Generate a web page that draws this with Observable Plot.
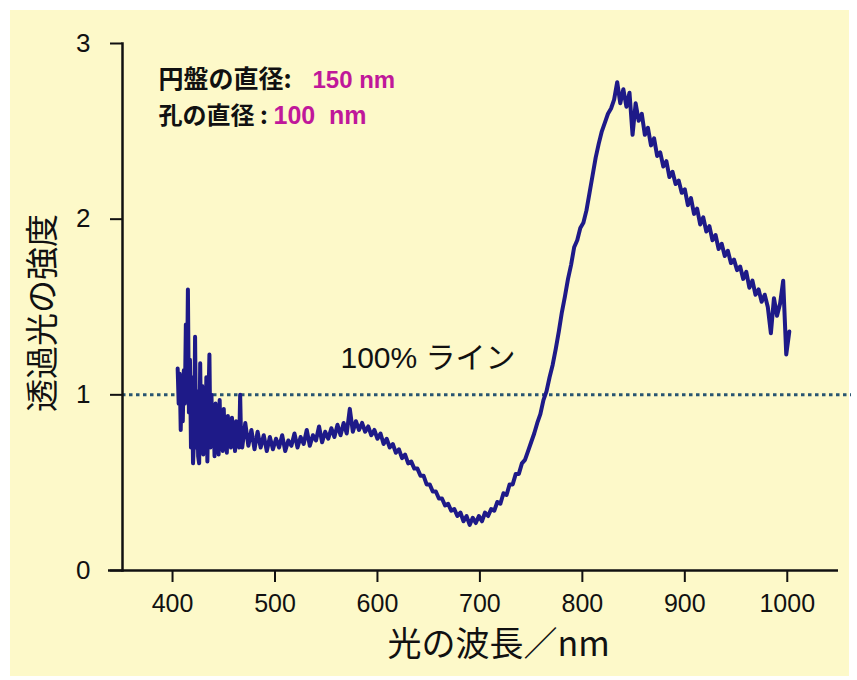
<!DOCTYPE html>
<html>
<head>
<meta charset="utf-8">
<script src="https://cdn.jsdelivr.net/npm/d3@7"></script>
<script src="https://cdn.jsdelivr.net/npm/@observablehq/plot@0.6"></script>
<style>
  html, body { margin: 0; padding: 0; background: #ffffff; }
  #wrap { position: relative; width: 857px; height: 680px; overflow: hidden; }
  #bg { position: absolute; left: 10px; top: 10px; width: 839px; height: 666px; background: #fdf9c9; }
  #chart { position: absolute; left: 0; top: 0; }
  #chart svg { overflow: visible; }
  g[aria-label="x-axis tick label"] text, g[aria-label="y-axis tick label"] text { fill: #111; }
</style>
</head>
<body>
<div id="wrap"><div id="bg"></div><div id="chart"></div></div>
<script>
// ---- data ----
// blue edge of the spectrum (very noisy), sampled every 1 nm
const blueEdgeStart = 405;
const blueEdgeStep = 1;
const blueEdge = [
  1.15,0.95,1.12,0.80,1.10,0.85,1.14,0.95,1.40,1.00,
  1.60,0.90,1.20,0.70,1.10,0.61,0.75,1.33,0.70,1.02,
  0.65,0.61,1.18,0.70,1.05,0.66,0.92,0.72,1.10,0.62,
  0.95,1.23,0.70,1.00,0.72,0.90,0.65,0.95,0.72,0.88,
  0.66,0.97,0.71,0.86,0.68,0.92,0.72,0.84,0.67,0.88,
  0.73,0.82,0.70,0.87,0.72,0.80,0.68,0.85,0.73,0.82,
  0.70,1.00,0.72
];
// rest of the spectrum, sampled every 3 nm
const mainStart = 468;
const mainStep = 3;
const mainValues = [
  0.70,0.84,0.71,0.80,0.69,0.79,0.70,0.77,0.68,
  0.76,0.69,0.75,0.70,0.77,0.68,0.74,0.71,0.78,0.70,
  0.76,0.72,0.80,0.71,0.77,0.74,0.82,0.73,0.79,0.75,
  0.81,0.76,0.83,0.77,0.84,0.78,0.92,0.79,0.85,0.80,
  0.84,0.79,0.82,0.77,0.80,0.75,0.78,0.72,0.75,0.70,
  0.72,0.67,0.69,0.64,0.66,0.61,0.62,0.58,0.58,0.54,
  0.54,0.49,0.49,0.45,0.45,0.41,0.41,0.37,0.38,0.34,
  0.35,0.31,0.33,0.28,0.31,0.26,0.30,0.27,0.31,0.28,
  0.33,0.31,0.35,0.34,0.39,0.38,0.44,0.43,0.49,0.49,
  0.55,0.55,0.61,0.63,0.68,0.73,0.78,0.84,0.89,0.97,
  1.02,1.10,1.17,1.26,1.36,1.47,1.56,1.66,1.74,1.84,
  1.88,1.95,1.98,2.05,2.15,2.25,2.35,2.43,2.50,2.55,
  2.60,2.63,2.68,2.78,2.66,2.74,2.64,2.72,2.48,2.66,
  2.56,2.60,2.48,2.52,2.42,2.46,2.36,2.38,2.30,2.33,
  2.24,2.27,2.20,2.22,2.15,2.17,2.08,2.12,2.03,2.06,
  1.97,2.01,1.93,1.96,1.88,1.91,1.83,1.86,1.79,1.82,
  1.75,1.77,1.71,1.73,1.66,1.70,1.61,1.65,1.57,1.60,
  1.53,1.57,1.50,1.35,1.55,1.45,1.52,1.65,1.23,1.36
];
const referenceLevel = [1];
const xTicks = [400, 500, 600, 700, 800, 900, 1000];
const yTicks = [0, 1, 2, 3];
const xTitle = "光の波長／nm";
const yTitle = "透過光の強度";
const diskLabel = "円盤の直径:";
const diskValue = "150 nm";
const holeLabel = "孔の直径 :";
const holeValue = "100  nm";
const lineLabel = "100% ライン";

const spectrum = [
  ...blueEdge.map((v, i) => ({ wavelength: blueEdgeStart + i * blueEdgeStep, transmission: v })),
  ...mainValues.map((v, i) => ({ wavelength: mainStart + i * mainStep, transmission: v }))
];

const font = "'Liberation Sans', Arial, 'Noto Sans CJK JP', sans-serif";
const jpFont = "'Noto Sans CJK JP', sans-serif";
const txt = d => d;

const chart = Plot.plot({
  width: 857,
  height: 680,
  marginLeft: 108,
  marginRight: 19,
  marginTop: 43,
  marginBottom: 110,
  style: { background: "transparent", fontFamily: font, color: "#111" },
  x: { domain: [337.5, 1050] },
  y: { domain: [0, 3] },
  marks: [
    Plot.ruleY(referenceLevel, { stroke: "#285571", strokeWidth: 3, strokeDasharray: "3.5,3.5", insetLeft: 14, insetRight: -13 }),
    Plot.line(spectrum, { x: "wavelength", y: "transmission", stroke: "#1e1a88", strokeWidth: 4 }),
    Plot.ruleY([0], { stroke: "#111", strokeWidth: 2.5 }),
    Plot.frame({ anchor: "left", dx: 14, stroke: "#111", strokeWidth: 2.5 }),
    Plot.axisX({ ticks: xTicks, tickSize: 12, tickPadding: 12, fontSize: 25, strokeWidth: 2, tickFormat: d => String(d), label: null }),
    Plot.axisY({ ticks: yTicks, tickSize: 12, tickPadding: 20, fontSize: 26, dx: 14, strokeWidth: 2, tickFormat: d => String(d), label: null }),
    Plot.text([yTitle], { text: txt, frameAnchor: "left", textAnchor: "middle", dx: -65, dy: 6, rotate: -90, fontSize: 33, fontFamily: jpFont, fill: "#111" }),
    Plot.text([xTitle], { text: txt, frameAnchor: "bottom", dx: 25, dy: 85, fontSize: 34, fontFamily: jpFont, fill: "#111" }),
    Plot.text([diskLabel], { text: txt, frameAnchor: "top-left", dx: 50, dy: 27, textAnchor: "start", fontSize: 25, fontWeight: "bold", fontFamily: jpFont, fill: "#111" }),
    Plot.text([diskValue], { text: txt, frameAnchor: "top-left", dx: 204, dy: 27, textAnchor: "start", fontSize: 24, fontWeight: "bold", fontFamily: font, fill: "#c0189a" }),
    Plot.text([holeLabel], { text: txt, frameAnchor: "top-left", dx: 50, dy: 63, textAnchor: "start", fontSize: 24, fontWeight: "bold", fontFamily: jpFont, fill: "#111" }),
    Plot.text([holeValue], { text: txt, frameAnchor: "top-left", dx: 165, dy: 63, textAnchor: "start", fontSize: 25, fontWeight: "bold", fontFamily: font, fill: "#c0189a" }),
    Plot.text([lineLabel], { text: txt, frameAnchor: "top-left", dx: 232, dy: 303, textAnchor: "start", fontSize: 30, fontFamily: font, fill: "#111" })
  ]
});
document.getElementById("chart").appendChild(chart);
</script>
</body>
</html>
